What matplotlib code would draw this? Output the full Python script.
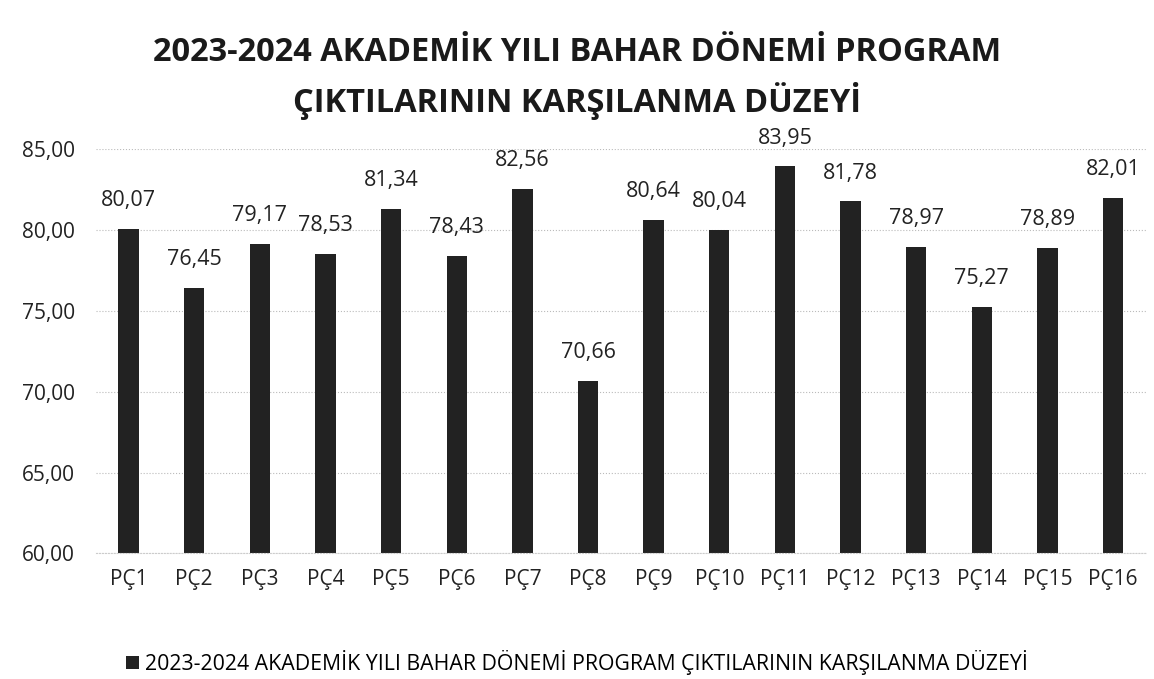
import matplotlib.pyplot as plt

# Verilerin tanımlanması
kategoriler = ["PÇ1", "PÇ2", "PÇ3", "PÇ4", "PÇ5", "PÇ6", "PÇ7", "PÇ8",
               "PÇ9", "PÇ10", "PÇ11", "PÇ12", "PÇ13", "PÇ14", "PÇ15", "PÇ16"]
degerler = [80.07, 76.45, 79.17, 78.53, 81.34, 78.43, 82.56, 70.66,
            80.64, 80.04, 83.95, 81.78, 78.97, 75.27, 78.89, 82.01]
y_ticks = [60, 65, 70, 75, 80, 85]
baslik = "2023-2024 AKADEMİK YILI BAHAR DÖNEMİ PROGRAM\nÇIKTILARININ KARŞILANMA DÜZEYİ"
seri_adi = "2023-2024 AKADEMİK YILI BAHAR DÖNEMİ PROGRAM ÇIKTILARININ KARŞILANMA DÜZEYİ"

plt.rcParams['font.family'] = ['Open Sans', 'DejaVu Sans']

fig = plt.figure(figsize=(11.54, 6.79), dpi=100)
ax = fig.add_axes([0.083, 0.185, 0.91, 0.595])

x = range(len(kategoriler))
bars = ax.bar(x, degerler, width=0.31, color='#222222', label=seri_adi, zorder=2)

# Değer etiketleri
for xi, v in zip(x, degerler):
    ax.text(xi, v + 1.1, f"{v:.2f}".replace('.', ','), ha='center', va='bottom',
            fontsize=15.5, color='#222222')

ax.set_ylim(60, 85)
ax.set_xlim(-0.5, len(kategoriler) - 0.5)
ax.set_yticks(y_ticks)
ax.set_yticklabels([f"{t:.2f}".replace('.', ',') for t in y_ticks], fontsize=15)
ax.set_xticks(list(x))
ax.set_xticklabels(kategoriler, fontsize=15)
ax.tick_params(axis='x', length=0, pad=11, colors='#222222')
ax.tick_params(axis='y', length=0, pad=15, colors='#222222')

ax.grid(axis='y', linestyle=':', color='#bbbbbb', linewidth=0.8, zorder=0)
for s in ['top', 'right', 'left']:
    ax.spines[s].set_visible(False)
ax.spines['bottom'].set_color('#cccccc')
ax.spines['bottom'].set_linestyle(':')

fig.text(0.5, 0.885, baslik, ha='center', va='center', fontsize=23.5,
         fontweight='bold', color='#1a1a1a', linespacing=1.45)

fig.legend(loc='center', bbox_to_anchor=(0.5, 0.024), frameon=False,
           fontsize=15.3, handlelength=0.6, handleheight=0.6, handletextpad=0.3)

plt.savefig("out.png", dpi=100)
